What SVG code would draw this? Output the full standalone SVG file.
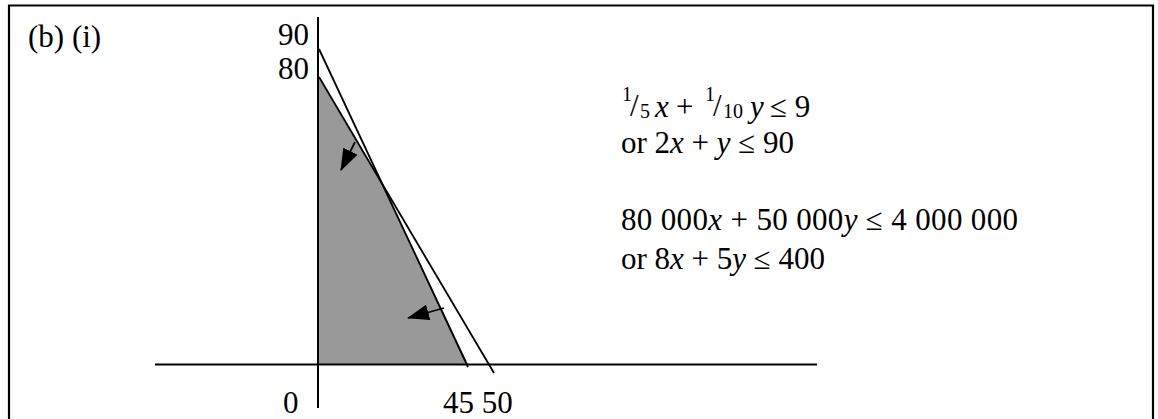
<svg xmlns="http://www.w3.org/2000/svg" width="1158" height="419" viewBox="0 0 1158 419">
<style>
text{font-family:"Liberation Serif","Times New Roman",serif;font-size:31px;fill:#000}
.it{font-style:italic}
.sm{font-size:20px}
.ax{stroke:#000;stroke-width:2;fill:none}
.ln{stroke:#000;stroke-width:1.8;fill:none}
.ar{stroke:#000;stroke-width:1.8}
</style>
<defs>
<marker id="ah2" viewBox="0 0 22 16" refX="21" refY="8" markerWidth="22" markerHeight="16" markerUnits="userSpaceOnUse" orient="auto">
<path d="M0,0 L22,8 L0,16 z" fill="#000"/>
</marker>
</defs>
<path id="frame" d="M9,420 V5.5 H1153 V420" fill="none" stroke="#000" stroke-width="2.2"/>
<g id="label-b"><text x="28" y="47">(b) (i)</text></g>
<g id="region"><polygon points="318,77 384.5,187.5 468,364 318,364" fill="#999999"/></g>
<g id="connectors">
<line class="ax" x1="318" y1="17" x2="318" y2="408"/>
<line class="ax" x1="155" y1="364.5" x2="817" y2="364.5"/>
<line class="ln" x1="319" y1="49" x2="468" y2="367"/>
<line class="ln" x1="319" y1="77" x2="494" y2="373"/>
<line class="ar" x1="355" y1="142" x2="341" y2="170" marker-end="url(#ah2)"/>
<line class="ar" x1="444" y1="308" x2="408" y2="318" marker-end="url(#ah2)"/>
</g>
<g id="ticks">
<text x="309" y="45" text-anchor="end">90</text>
<text x="309" y="79" text-anchor="end">80</text>
<text x="283" y="413">0</text>
<text x="443" y="413">45 50</text>
</g>
<g id="constraint1">
<text x="622" y="101" class="sm">1</text>
<text x="630" y="116">/</text>
<text x="640" y="118" class="sm">5</text>
<text x="655" y="117" class="it">x</text>
<text x="676" y="117">+</text>
<text x="705" y="101" class="sm">1</text>
<text x="713" y="116">/</text>
<text x="723" y="118" class="sm">10</text>
<text x="750" y="117" class="it">y</text>
<text x="770" y="117">≤ 9</text>
<text x="621" y="153">or 2<tspan class="it">x</tspan> + <tspan class="it">y</tspan> ≤ 90</text>
</g>
<g id="constraint2">
<text x="621" y="230" textLength="397" lengthAdjust="spacing">80 000<tspan class="it">x</tspan> + 50 000<tspan class="it">y</tspan> ≤ 4 000 000</text>
<text x="621" y="269">or 8<tspan class="it">x</tspan> + 5<tspan class="it">y</tspan> ≤ 400</text>
</g>
</svg>
